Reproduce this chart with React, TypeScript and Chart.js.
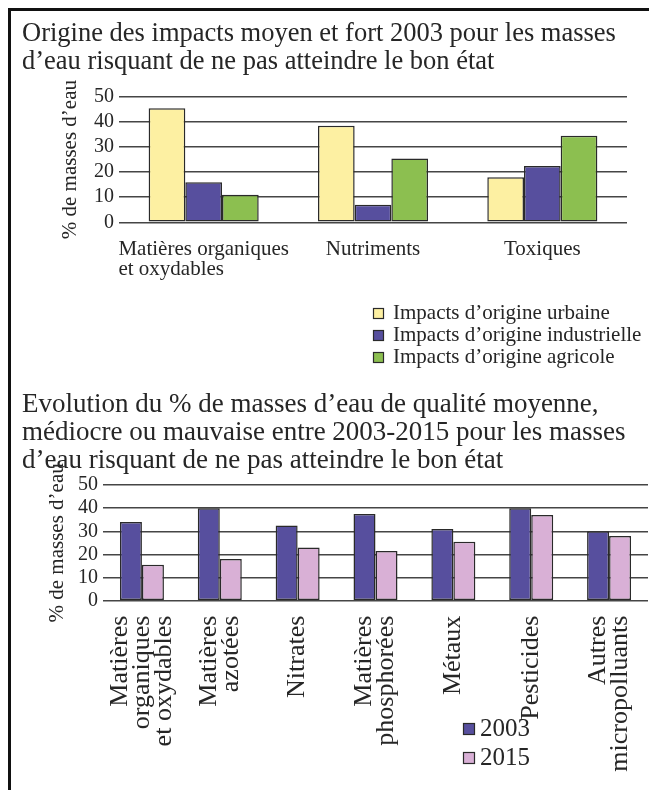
import React, { useEffect, useRef } from 'react';
import { Chart, registerables } from 'chart.js';

Chart.register(...registerables);

const FONT = "'Liberation Serif', 'Times New Roman', serif";

// ---------- Chart 1 data ----------
const title1 = [
  'Origine des impacts moyen et fort 2003 pour les masses',
  'd’eau risquant de ne pas atteindre le bon état',
];
const categories1 = [['Matières organiques', 'et oxydables'], 'Nutriments', 'Toxiques'];
const seriesNames1 = ['Impacts d’origine urbaine', 'Impacts d’origine industrielle', 'Impacts d’origine agricole'];
const urbaine = [45.5, 38.5, 18];
const industrielle = [16, 7, 22.5];
const agricole = [11, 25.5, 34.5];

// ---------- Chart 2 data ----------
const title2 = [
  'Evolution du % de masses d’eau de qualité moyenne,',
  'médiocre ou mauvaise entre 2003-2015 pour les masses',
  'd’eau risquant de ne pas atteindre le bon état',
];
const categories2 = [
  ['Matières', 'organiques', 'et oxydables'],
  ['Matières', 'azotées'],
  'Nitrates',
  ['Matières', 'phosphorées'],
  'Métaux',
  'Pesticides',
  ['Autres', 'micropolluants'],
];
const seriesNames2 = ['2003', '2015'];
const values2003 = [34, 40, 32.5, 37.5, 31, 40, 30];
const values2015 = [15.5, 18, 23, 21.5, 25.5, 37, 28];

// ---------- shared ----------
const yTicks = [0, 10, 20, 30, 40, 50];
const yAxisTitle = '% de masses d’eau';

const TEXT = '#262626';
const GRID = '#454545';
const BORDER = '#2a2a2a';

function makeXLabels(cfg: { size: number; lineHeight: number; offset: number; rotated: boolean }) {
  return {
    id: 'xLabels',
    afterDraw(chart: any) {
      const { ctx } = chart;
      const scale = chart.scales.x;
      const labels = chart.data.labels as any[];
      ctx.save();
      ctx.font = `${cfg.size}px ${FONT}`;
      ctx.fillStyle = TEXT;
      labels.forEach((lab, i) => {
        const lines: string[] = Array.isArray(lab) ? lab : [lab];
        const x = scale.getPixelForValue(i);
        if (cfg.rotated) {
          const n = lines.length;
          ctx.save();
          ctx.translate(x, scale.top + cfg.offset);
          ctx.rotate(-Math.PI / 2);
          ctx.textAlign = 'right';
          ctx.textBaseline = 'middle';
          lines.forEach((ln, j) => {
            ctx.fillText(ln, 0, (j - (n - 1) / 2) * cfg.lineHeight);
          });
          ctx.restore();
        } else {
          const w = Math.max(...lines.map((l) => ctx.measureText(l).width));
          ctx.textAlign = 'left';
          ctx.textBaseline = 'alphabetic';
          lines.forEach((ln, j) => {
            ctx.fillText(ln, x - w / 2, scale.top + cfg.offset + j * cfg.lineHeight);
          });
        }
      });
      ctx.restore();
    },
  };
}

function makeLegend(cfg: { x: number; y: number; spacing: number; box: number; gap: number; size: number }) {
  return {
    id: 'boxLegend',
    afterDraw(chart: any) {
      const { ctx } = chart;
      ctx.save();
      ctx.font = `${cfg.size}px ${FONT}`;
      ctx.textAlign = 'left';
      ctx.textBaseline = 'middle';
      chart.data.datasets.forEach((ds: any, i: number) => {
        const cy = cfg.y + i * cfg.spacing;
        ctx.fillStyle = ds.backgroundColor;
        ctx.fillRect(cfg.x, cy - cfg.box / 2, cfg.box, cfg.box);
        ctx.strokeStyle = BORDER;
        ctx.lineWidth = 1.2;
        ctx.strokeRect(cfg.x + 0.5, cy - cfg.box / 2 + 0.5, cfg.box - 1, cfg.box - 1);
        ctx.fillStyle = TEXT;
        ctx.fillText(ds.label, cfg.x + cfg.box + cfg.gap, cy);
      });
      ctx.restore();
    },
  };
}

function yScale(width: number, titlePad: number) {
  return {
    min: 0,
    max: 50,
    afterBuildTicks: (s: any) => {
      s.ticks = yTicks.map((v) => ({ value: v }));
    },
    afterFit: (s: any) => {
      s.width = width;
    },
    grid: { color: GRID, lineWidth: 1.5, drawTicks: false },
    border: { display: false },
    ticks: { color: TEXT, padding: 5, autoSkip: false, font: { family: FONT, size: 20, lineHeight: 1 } },
    title: {
      display: true,
      text: yAxisTitle,
      color: TEXT,
      font: { family: FONT, size: 21 },
      padding: { top: titlePad, bottom: 0 },
    },
  };
}

function xScale(height: number) {
  return {
    grid: { display: false },
    border: { display: false },
    ticks: { display: false },
    afterFit: (s: any) => {
      s.height = height;
    },
  };
}

export default function App() {
  const ref1 = useRef<HTMLCanvasElement>(null);
  const ref2 = useRef<HTMLCanvasElement>(null);

  useEffect(() => {
    const c1 = new Chart(ref1.current as HTMLCanvasElement, {
      type: 'bar',
      data: {
        labels: categories1 as any,
        datasets: [
          { label: seriesNames1[0], data: urbaine, backgroundColor: '#FDF0A2', borderColor: BORDER, borderWidth: 1.5, borderSkipped: false },
          { label: seriesNames1[1], data: industrielle, backgroundColor: '#574F9E', borderColor: BORDER, borderWidth: 1.5, borderSkipped: false },
          { label: seriesNames1[2], data: agricole, backgroundColor: '#8CBF50', borderColor: BORDER, borderWidth: 1.5, borderSkipped: false },
        ],
      },
      options: {
        responsive: false,
        animation: false,
        layout: { padding: { left: 22, right: 22, top: 0, bottom: 0 } },
        datasets: { bar: { categoryPercentage: 0.65, barPercentage: 1 } },
        plugins: {
          legend: { display: false },
          tooltip: { enabled: false },
          title: {
            display: true,
            text: title1,
            align: 'start',
            color: TEXT,
            font: { family: FONT, size: 26.5, weight: 'normal', lineHeight: 28 / 26.5 },
            padding: { top: 20, bottom: 21 },
          },
        },
        scales: {
          x: xScale(149.7),
          y: yScale(97, 35.4),
        },
      } as any,
      plugins: [
        makeXLabels({ size: 21, lineHeight: 20, offset: 33, rotated: false }),
        makeLegend({ x: 373, y: 313.5, spacing: 22, box: 11, gap: 9, size: 21 }),
      ],
    });

    const c2 = new Chart(ref2.current as HTMLCanvasElement, {
      type: 'bar',
      data: {
        labels: categories2 as any,
        datasets: [
          { label: seriesNames2[0], data: values2003, backgroundColor: '#574F9E', borderColor: BORDER, borderWidth: 1.5, borderSkipped: false },
          { label: seriesNames2[1], data: values2015, backgroundColor: '#D9B0D6', borderColor: BORDER, borderWidth: 1.5, borderSkipped: false },
        ],
      },
      options: {
        responsive: false,
        animation: false,
        layout: { padding: { left: 22, right: 1, top: 0, bottom: 0 } },
        datasets: { bar: { categoryPercentage: 0.565, barPercentage: 1 } },
        plugins: {
          legend: { display: false },
          tooltip: { enabled: false },
          title: {
            display: true,
            text: title2,
            align: 'start',
            color: TEXT,
            font: { family: FONT, size: 27, weight: 'normal', lineHeight: 28.1 / 27 },
            padding: { top: 18.9, bottom: 9.8 },
          },
        },
        scales: {
          x: xScale(189.3),
          y: yScale(81, 22.4),
        },
      } as any,
      plugins: [
        makeXLabels({ size: 26, lineHeight: 22, offset: 15, rotated: true }),
        makeLegend({ x: 463, y: 357, spacing: 29, box: 12, gap: 5, size: 25 }),
      ],
    });

    return () => {
      c1.destroy();
      c2.destroy();
    };
  }, []);

  return (
    <div style={{ position: 'absolute', left: 0, top: 0, width: 649, height: 790, overflow: 'hidden', background: '#fff' }}>
      <div
        style={{
          position: 'absolute',
          left: 8,
          top: 8,
          width: 641,
          height: 782,
          borderTop: '3px solid #111',
          borderLeft: '3px solid #111',
          boxSizing: 'border-box',
        }}
      />
      <canvas ref={ref1} width={649} height={372} style={{ position: 'absolute', left: 0, top: 0 }} />
      <canvas ref={ref2} width={649} height={418} style={{ position: 'absolute', left: 0, top: 372 }} />
    </div>
  );
}
